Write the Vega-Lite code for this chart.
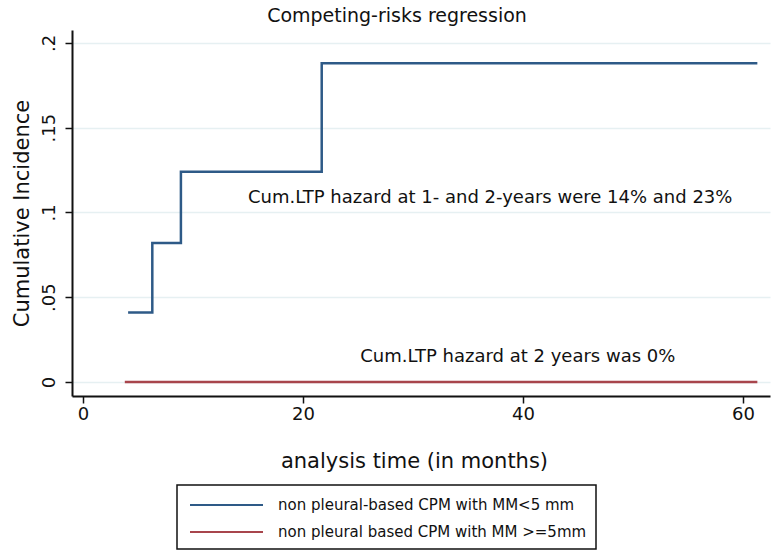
{
  "$schema": "https://vega.github.io/schema/vega-lite/v6.json",
  "autosize": "none",
  "width": 698,
  "height": 366,
  "padding": {"left": 72, "top": 30, "right": 5, "bottom": 161},
  "background": "white",
  "title": {
    "text": "Competing-risks regression",
    "fontSize": 19,
    "fontWeight": "normal",
    "font": "DejaVu Sans",
    "color": "#111",
    "anchor": "middle",
    "frame": "group",
    "dx": -24,
    "offset": 4
  },
  "config": {
    "view": {"stroke": null},
    "font": "DejaVu Sans"
  },
  "datasets": {
    "curves": [
      {"time": 4.1, "ci": 0.041, "group": "non pleural-based CPM with MM<5 mm"},
      {"time": 6.3, "ci": 0.082, "group": "non pleural-based CPM with MM<5 mm"},
      {"time": 8.9, "ci": 0.124, "group": "non pleural-based CPM with MM<5 mm"},
      {"time": 21.7, "ci": 0.188, "group": "non pleural-based CPM with MM<5 mm"},
      {"time": 61.3, "ci": 0.188, "group": "non pleural-based CPM with MM<5 mm"},
      {"time": 3.8, "ci": 0.0, "group": "non pleural based CPM with MM >=5mm"},
      {"time": 61.3, "ci": 0.0, "group": "non pleural based CPM with MM >=5mm"}
    ],
    "notes": [
      {"time": 15.0, "ci": 0.1086, "label": "Cum.LTP hazard at 1- and 2-years were 14% and 23%"},
      {"time": 25.2, "ci": 0.0147, "label": "Cum.LTP hazard at 2 years was 0%"}
    ]
  },
  "layer": [
    {
      "data": {"name": "curves"},
      "mark": {"type": "line", "interpolate": "step-after", "strokeWidth": 2.5},
      "encoding": {
        "x": {
          "field": "time",
          "type": "quantitative",
          "scale": {"domain": [-1, 62.45], "nice": false, "zero": false},
          "axis": {
            "values": [0, 20, 40, 60],
            "title": "analysis time (in months)",
            "titleFontSize": 21,
            "titleFontWeight": "normal",
            "titleColor": "#111",
            "titlePadding": 27,
            "titleX": 342,
            "labelFontSize": 18,
            "labelColor": "#111",
            "labelPadding": 2,
            "tickColor": "#111",
            "tickSize": 7,
            "tickWidth": 1.5,
            "domainColor": "#111",
            "domainWidth": 2,
            "grid": false
          }
        },
        "y": {
          "field": "ci",
          "type": "quantitative",
          "scale": {"domain": [-0.0083, 0.2076], "nice": false, "zero": false},
          "axis": {
            "values": [0, 0.05, 0.1, 0.15, 0.2],
            "labelExpr": "datum.value == 0 ? '0' : replace(toString(datum.value), '0.', '.')",
            "labelAngle": -90,
            "labelAlign": "center",
            "labelBaseline": "bottom",
            "title": "Cumulative Incidence",
            "titleFontSize": 21,
            "titleFontWeight": "normal",
            "titleColor": "#111",
            "titlePadding": 8,
            "labelFontSize": 18,
            "labelColor": "#111",
            "labelPadding": 7,
            "tickColor": "#111",
            "tickSize": 7,
            "tickWidth": 1.5,
            "domainColor": "#111",
            "domainWidth": 2,
            "grid": true,
            "gridColor": "#e6f0f2",
            "gridWidth": 1.5
          }
        },
        "color": {
          "field": "group",
          "type": "nominal",
          "scale": {
            "domain": ["non pleural-based CPM with MM<5 mm", "non pleural based CPM with MM >=5mm"],
            "range": ["#2e5a87", "#a8454c"]
          },
          "legend": {
            "title": null,
            "orient": "none",
            "legendX": 105,
            "legendY": 455,
            "direction": "vertical",
            "symbolType": "M-0.7,0H6.6",
            "symbolSize": 400,
            "symbolStrokeWidth": 2,
            "labelFontSize": 15,
            "labelColor": "#111",
            "labelOffset": 70,
            "labelLimit": 400,
            "rowPadding": 8,
            "padding": 9,
            "strokeColor": "#111",
            "fillColor": "white",
            "encode": {
              "legend": {"update": {"strokeWidth": {"value": 1.5}}}
            }
          }
        }
      }
    },
    {
      "data": {"name": "notes"},
      "mark": {"type": "text", "align": "left", "baseline": "middle", "fontSize": 18, "color": "#111"},
      "encoding": {
        "x": {"field": "time", "type": "quantitative"},
        "y": {"field": "ci", "type": "quantitative"},
        "text": {"field": "label"}
      }
    }
  ]
}
